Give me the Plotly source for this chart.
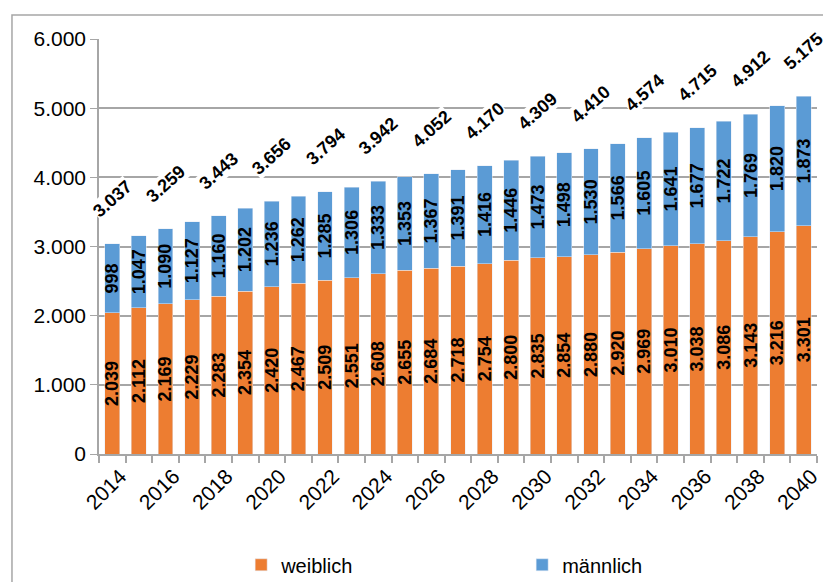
import plotly.graph_objects as go

years = list(range(2014, 2041))
weiblich = [2039, 2112, 2169, 2229, 2283, 2354, 2420, 2467, 2509, 2551, 2608, 2655, 2684, 2718,
            2754, 2800, 2835, 2854, 2880, 2920, 2969, 3010, 3038, 3086, 3143, 3216, 3301]
maennlich = [998, 1047, 1090, 1127, 1160, 1202, 1236, 1262, 1285, 1306, 1333, 1353, 1367, 1391,
             1416, 1446, 1473, 1498, 1530, 1566, 1605, 1641, 1677, 1722, 1769, 1820, 1873]
total_years = list(range(2014, 2041, 2))
total_labels = ["3.037", "3.259", "3.443", "3.656", "3.794", "3.942", "4.052", "4.170",
                "4.309", "4.410", "4.574", "4.715", "4.912", "5.175"]
tick_labels = [str(y) for y in total_years]

ORANGE = "#ED7D31"
BLUE = "#5B9BD5"
GRID = "#A6A6A6"
FONT = "Liberation Sans, Arial, sans-serif"

fig = go.Figure()
fig.add_trace(go.Bar(
    x=years, y=weiblich, name="weiblich", marker_color=ORANGE,
    texttemplate="<b>%{y:,}</b>", textposition="inside", insidetextanchor="middle",
    textangle=-90, textfont=dict(family=FONT, size=18, color="black"),
))
fig.add_trace(go.Bar(
    x=years, y=maennlich, name="männlich", marker_color=BLUE,
    texttemplate="<b>%{y:,}</b>", textposition="inside", insidetextanchor="middle",
    textangle=-90, textfont=dict(family=FONT, size=18, color="black"),
))

tops = {y: w + m for y, w, m in zip(years, weiblich, maennlich)}
for yr, lab in zip(total_years, total_labels):
    fig.add_annotation(
        x=yr, y=tops[yr], text="<b>" + lab + "</b>", showarrow=False,
        yshift=45, textangle=-42, bgcolor="white", borderpad=0,
        font=dict(family=FONT, size=18, color="black"),
    )

# outer frame
fig.add_shape(type="rect", xref="paper", yref="paper",
              x0=-0.1212, x1=1.05, y0=-0.6, y1=1.058,
              line=dict(color=GRID, width=1.5), layer="below")

fig.update_layout(
    width=823, height=574,
    margin=dict(l=91, r=14, t=31, b=128),
    barmode="stack", bargap=0.44,
    plot_bgcolor="white", paper_bgcolor="white",
    separators=",.",
    font=dict(family=FONT, color="black"),
    uniformtext=dict(minsize=18, mode="show"),
    showlegend=True,
    legend=dict(orientation="h", x=0.198, xref="paper", y=0.03, yref="container",
                xanchor="left", yanchor="middle",
                font=dict(size=20), entrywidth=236, traceorder="normal"),
)
fig.update_xaxes(
    range=[2013.5, 2040.5], tickmode="array", tickvals=total_years, ticktext=tick_labels,
    tickangle=-45, ticks="", showline=True, linecolor=GRID, linewidth=1.5,
    tickfont=dict(size=21), showgrid=False, zeroline=False, automargin=False,
    ticklabelshift=8,
    minor=dict(ticks="outside", ticklen=7, tickcolor=GRID, tickwidth=1.5,
               tick0=2013.5, dtick=1, showgrid=False),
)
fig.update_yaxes(
    range=[0, 6000], dtick=1000, tickformat=",d", showgrid=True, gridcolor=GRID,
    gridwidth=1.5, showline=True, linecolor=GRID, linewidth=1.5, ticks="outside",
    ticklen=7, tickcolor=GRID, tickfont=dict(size=21), zeroline=False, automargin=False,
)

fig.write_html("out.html")
